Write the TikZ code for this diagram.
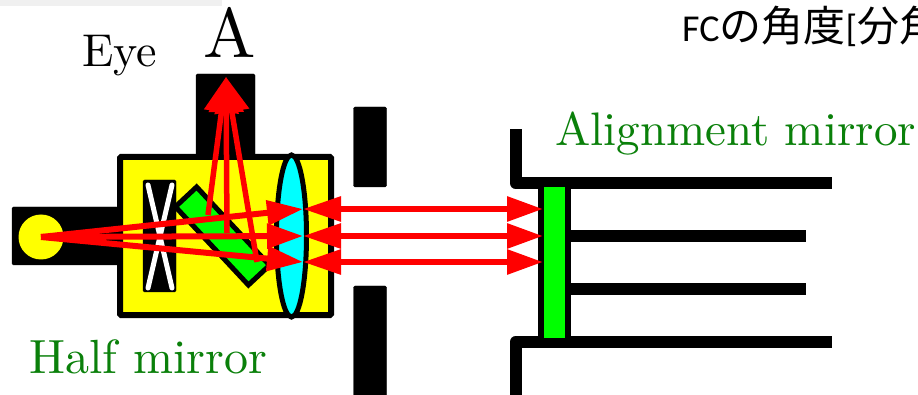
\documentclass[tikz,border=0pt]{standalone}
\usepackage{fontspec}
\newfontfamily\jpfont{Noto Sans CJK JP}
\newfontfamily\latinfont{Carlito}
\newfontfamily\cmfont[Extension=.otf]{lmroman10-regular}
\usetikzlibrary{arrows.meta,positioning,shapes.geometric}
\definecolor{labelgreen}{RGB}{10,128,10}
\definecolor{bodyyellow}{RGB}{255,255,0}
\definecolor{lenscyan}{RGB}{0,255,255}
\definecolor{mirrorgreen}{RGB}{0,255,0}
\definecolor{rayred}{RGB}{255,0,0}
\tikzset{
  solid black/.style={draw=black, fill=black, rounded corners=1.5pt, inner sep=0pt},
  wall/.style={draw=black, line width=12pt, line cap=rect, line join=round},
  ray/.style={draw=rayred, line width=6pt, -{Triangle[length=36pt,width=24pt]}},
  beam/.style={draw=rayred, line width=6pt, {Triangle[length=38pt,width=24pt]}-{Triangle[length=36pt,width=24pt]}},
  up ray/.style={draw=rayred, line width=5.5pt, -{Triangle[length=35pt,width=34pt]}},
  caption/.style={inner sep=0pt, anchor=base west},
}
\begin{document}
\begin{tikzpicture}[x=1pt, y=-1pt]
  \clip (0,0) rectangle (918,395);
  \fill[black!6] (0,0) rectangle (222,6);

  % light source and housing
  \node[solid black, minimum width=106pt, minimum height=58pt] (arm) at (65,236) {};
  \node[solid black, minimum width=59pt, minimum height=82pt] (eyetube) at (225.5,115) {};
  \node[draw=black, fill=bodyyellow, line width=6pt, rounded corners=1pt, minimum width=211pt, minimum height=158pt, inner sep=0pt] (body) at (225.5,236) {};
  \node[circle, fill=bodyyellow, minimum size=45pt, inner sep=0pt] (lamp) at (41,237) {};

  % aperture
  \node[solid black, minimum width=33pt, minimum height=112pt] (stop) at (159.5,236) {};
  \draw[white, line width=5pt, line cap=round] (148,185) -- (172,288);
  \draw[white, line width=5pt, line cap=round] (172,185) -- (148,288);

  % half mirror and lens
  \node[draw=black, fill=mirrorgreen, line width=5pt, rotate=-47, minimum width=107pt, minimum height=29pt, inner sep=0pt] (halfm) at (222.5,236) {};
  \node[ellipse, draw=black, fill=lenscyan, line width=5pt, minimum width=30pt, minimum height=162pt, inner sep=0pt] (lens) at (291.5,236) {};

  % slit
  \node[solid black, minimum width=33pt, minimum height=80pt] (slitup) at (370,147) {};
  \node[solid black, minimum width=33pt, minimum height=120pt] (slitlow) at (370,346) {};

  % alignment mirror mount
  \coordinate (wa) at (515.5,135);
  \coordinate (wb) at (515.5,183);
  \coordinate (wc) at (826,183);
  \coordinate (wd) at (515.5,405);
  \coordinate (we) at (515.5,342);
  \coordinate (wf) at (826,342);
  \draw[wall] (wa) -- (wb) -- (wc);
  \draw[wall] (wd) -- (we) -- (wf);
  \coordinate (aa) at (565,236);
  \coordinate (ab) at (800,236);
  \coordinate (ac) at (565,289);
  \coordinate (ad) at (800,289);
  \draw[wall] (aa) -- (ab);
  \draw[wall] (ac) -- (ad);
  \node[draw=black, fill=mirrorgreen, line width=6pt, minimum width=27pt, minimum height=157pt, inner sep=0pt] (almirror) at (554.5,262.5) {};

  % rays
  \coordinate (lu) at (303,209);
  \coordinate (lm) at (303,236);
  \coordinate (ll) at (303,262);
  \coordinate (ru) at (543,209);
  \coordinate (rm) at (543,236);
  \coordinate (rl) at (543,262);
  \coordinate (hu) at (208,215);
  \coordinate (hm) at (227,233);
  \coordinate (hl) at (257,262);
  \coordinate (top) at (226,77);

  \path
    (lamp.center) edge [ray] (lu)
    (lamp.center) edge [ray] (lm)
    (lamp.center) edge [ray] (ll)
    (lu) edge [beam] (ru)
    (lm) edge [beam] (rm)
    (ll) edge [beam] (rl)
    (hu) edge [up ray] (top)
    (hm) edge [up ray] (top)
    (hl) edge [up ray] (top);

  % labels
  \node[caption, font=\cmfont\fontsize{46}{46}\selectfont] (eyelabel) at (82,67) {Eye};
  \node[caption, font=\cmfont\fontsize{70}{70}\selectfont] (alabel) at (203,58) {A};
  \node[caption, font=\cmfont\fontsize{48}{48}\selectfont, text=labelgreen] (halflabel) at (29,373) {Half mirror};
  \node[caption, font=\cmfont\fontsize{47}{47}\selectfont, text=labelgreen] (alignlabel) at (555,146) {Alignment mirror};
  \node[caption, font=\fontsize{38}{38}\selectfont] (fclabel) at (682,42) {\latinfont FC\jpfont\fontsize{42}{42}\selectfont の角度\latinfont\fontsize{38}{38}\selectfont [\jpfont\fontsize{42}{42}\selectfont 分角};
\end{tikzpicture}
\end{document}
